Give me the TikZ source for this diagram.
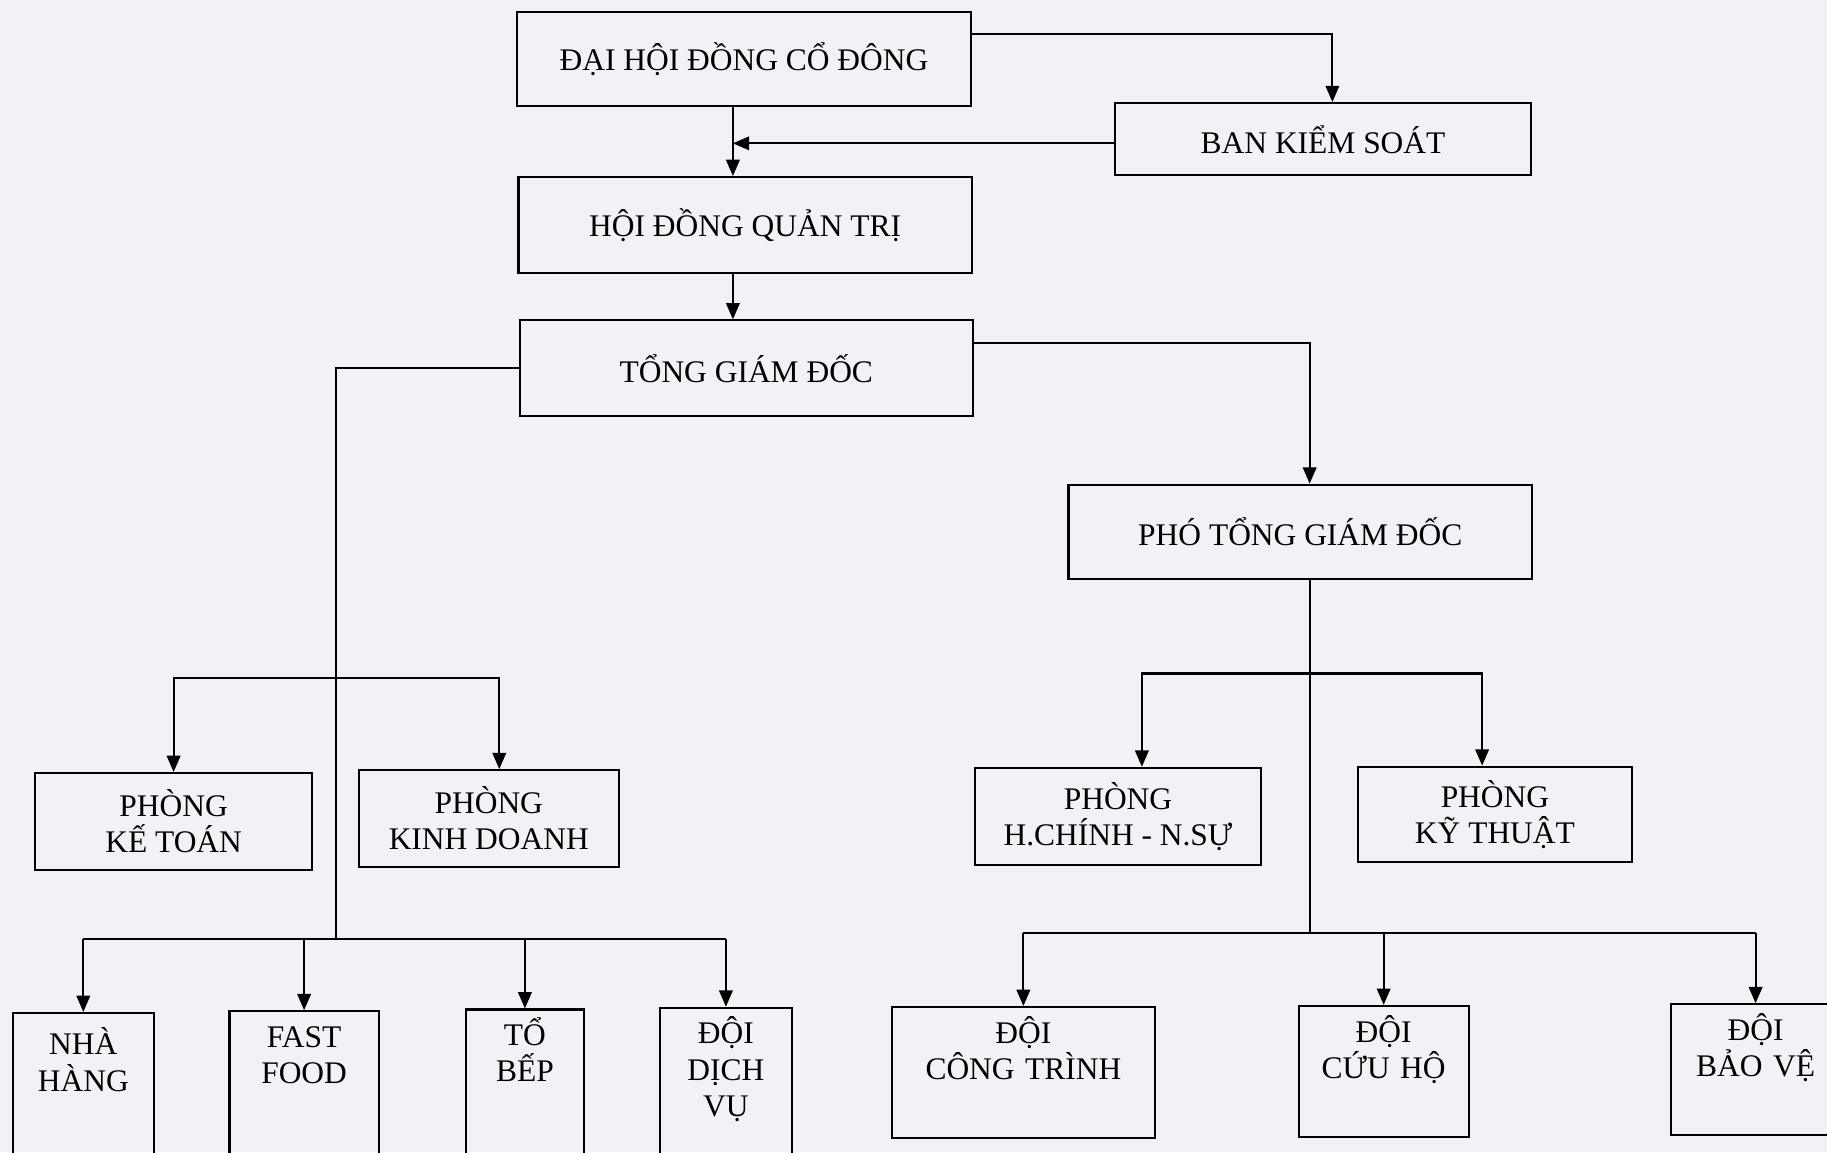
\documentclass[tikz,border=0pt]{standalone}
\usepackage{fontspec}
\setmainfont{Liberation Serif}
\usetikzlibrary{arrows.meta}
\usetikzlibrary{calc}
\definecolor{scanbg}{RGB}{241,242,246}

\begin{document}
\begin{tikzpicture}[>={Triangle[length=7pt,width=5.8pt]},line width=0.9pt,x=0.5pt,y=-0.5pt]
\tikzstyle{box}=[draw,align=center,inner sep=0pt,font=\fontsize{13.5}{15.5}\selectfont]
\tikzstyle{lowbox}=[box,anchor=north,text height=15.5pt,text depth=80pt]
\tikzstyle{teambox}=[lowbox,text depth=40.7pt]

\fill[scanbg] (0,0) rectangle (1568,988.7);
\useasboundingbox (0,0) rectangle (1568,988.7);

\node[box,minimum width=194.5pt,minimum height=40.5pt] (dhdcd) at (638.5,50.5) {ĐẠI HỘI ĐỒNG CỔ ĐÔNG};
\node[box,minimum width=178.5pt,minimum height=31pt] (bks) at (1135.5,119.5) {BAN KIỂM SOÁT};
\node[box,minimum width=194.5pt,minimum height=41pt] (hdqt) at (639.5,193) {HỘI ĐỒNG QUẢN TRỊ};
\node[box,minimum width=194.5pt,minimum height=41pt] (tgd) at (640.5,316) {TỔNG GIÁM ĐỐC};
\node[box,minimum width=199pt,minimum height=40.5pt] (ptgd) at (1116,456.5) {PHÓ TỔNG GIÁM ĐỐC};

\node[box,minimum width=119pt,minimum height=41.5pt] (pkt) at (149,705) {PHÒNG\\KẾ TOÁN};
\node[box,minimum width=111.5pt,minimum height=41.5pt] (pkd) at (419.5,702.5) {PHÒNG\\KINH DOANH};
\node[box,minimum width=123pt,minimum height=41.5pt] (phcns) at (959.5,700.5) {PHÒNG\\H.CHÍNH - N.SỰ};
\node[box,minimum width=117.5pt,minimum height=41pt] (pkth) at (1283,699) {PHÒNG\\KỸ THUẬT};

\node[lowbox,text width=60.5pt,text height=18pt] (nh) at (71.5,868.5) {NHÀ\\HÀNG};
\node[lowbox,text width=64pt] (ff) at (261,867) {FAST\\FOOD};
\node[lowbox,text width=50.5pt] (tb) at (450.5,865.5) {TỔ\\BẾP};
\node[lowbox,text width=56.5pt] (ddv) at (623,864) {ĐỘI\\DỊCH\\VỤ};
\node[teambox,text width=112.7pt] (dct) at (878.3,863.4) {ĐỘI\\CÔNG TRÌNH};
\node[teambox,text width=73pt] (dch) at (1187.5,862.4) {ĐỘI\\CỨU HỘ};
\node[teambox,text width=72.7pt] (dbv) at (1506.7,861) {ĐỘI\\BẢO VỆ};

% board
\coordinate (spine) at (629,123);
\draw[->] (dhdcd.east |- 0,29) -| ($(bks.north)+(8,0)$);
\draw[->] (dhdcd.south -| spine) -- (hdqt.north -| spine);
\draw[->] (bks.west |- spine) -- (spine);
\draw[->] (hdqt.south -| spine) -- (tgd.north -| spine);

% left branch
\coordinate (lspine) at (288,582);
\coordinate (lbus) at (288,806);
\draw (tgd.west) -| (lbus);
\draw[->] (lspine) -| (pkt.north);
\draw[->] (lspine) -| ($(pkd.north)+(9,0)$);
\draw (nh.north |- lbus) -- (ddv.north |- lbus);
\foreach \b in {nh,ff,tb,ddv}
  \draw[->] (\b.north |- lbus) -- (\b.north);

% right branch
\coordinate (rspine) at (1124,578);
\coordinate (rbus) at (1124,801);
\draw[->] (tgd.east |- 0,294) -| (ptgd.north -| rspine);
\draw (ptgd.south -| rspine) -- (rbus);
\draw[->] (rspine) -| ($(phcns.north)+(20.5,0)$);
\draw[->] (rspine) -| ($(pkth.north)+(-11,0)$);
\draw (dct.north |- rbus) -- (dbv.north |- rbus);
\foreach \b in {dct,dch,dbv}
  \draw[->] (\b.north |- rbus) -- (\b.north);
\end{tikzpicture}
\end{document}
